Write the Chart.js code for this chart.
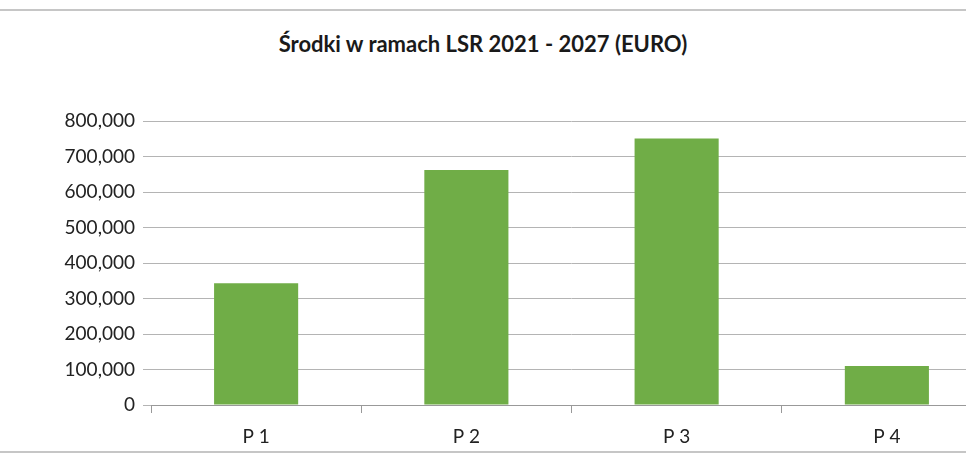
<!DOCTYPE html>
<html><head><meta charset="utf-8">
<script src="https://cdn.jsdelivr.net/npm/chart.js@4"></script>
<style>
html,body{margin:0;padding:0;width:966px;height:475px;overflow:hidden;background:#fff;}
#wrap{position:absolute;left:0;top:0;width:992px;height:475px;}
.line{position:absolute;left:0;width:966px;height:2px;background:#c6c6c6;}
#title{position:absolute;left:0;width:966px;top:30px;text-align:center;font:bold 22px Lato,"Open Sans",sans-serif;color:#1a1a1a;}
</style></head><body>
<div class="line" style="top:9px"></div>
<div class="line" style="top:451px"></div>
<div id="title">Środki w ramach LSR 2021 - 2027 (EURO)</div>
<div id="wrap"><canvas id="c"></canvas></div>
<script>
const categories = ["P 1","P 2","P 3","P 4"];
const values = [343000, 662000, 751000, 110000];
const yTicks = [0,100000,200000,300000,400000,500000,600000,700000,800000];
new Chart(document.getElementById('c'),{
  type:'bar',
  data:{labels:categories,datasets:[{data:values,backgroundColor:'#70ad47',barPercentage:0.4,categoryPercentage:1}]},
  options:{
    responsive:true,maintainAspectRatio:false,animation:false,
    layout:{padding:{top:121,bottom:23,left:0,right:0}},
    plugins:{legend:{display:false},tooltip:{enabled:false}},
    scales:{
      x:{grid:{offset:true,drawOnChartArea:false,color:'#999',tickLength:8},border:{color:'#999'},
         ticks:{padding:12,color:'#222',font:{family:'Lato',size:19}},
         afterFit(s){s.height=47;}},
      y:{min:0,max:800000,afterBuildTicks(s){s.ticks=yTicks.map(v=>({value:v}));},
         grid:{color:'#b4b4b4',tickLength:8},border:{display:false},
         ticks:{padding:8,color:'#222',font:{family:'Lato',size:19},callback:v=>v.toLocaleString('en-US')},
         afterFit(s){s.width=151;}}
    }
  }
});
</script></body></html>
